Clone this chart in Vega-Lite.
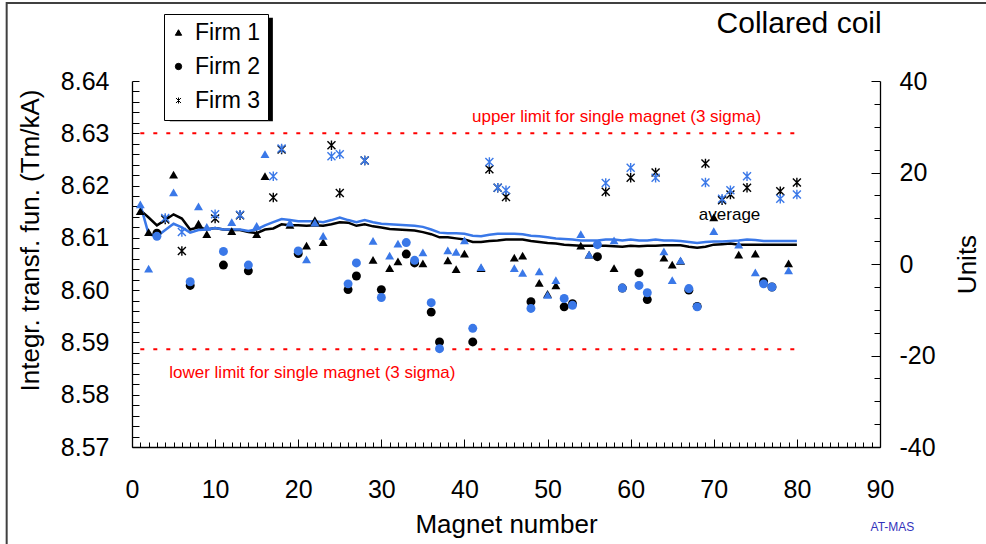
{
 "$schema": "https://vega.github.io/schema/vega-lite/v6.json",
 "width": 748, "height": 366,
 "autosize": "none",
 "padding": {"left": 132, "top": 81, "right": 106, "bottom": 97},
 "background": "white",
 "config": {
  "font": "Liberation Sans",
  "view": {"stroke": null},
  "axis": {"grid": false, "labelOverlap": false, "labelFlush": false, "domainColor": "black", "domainWidth": 1.3, "tickColor": "black", "tickWidth": 1, "labelColor": "black", "titleColor": "black", "labelFont": "Liberation Sans", "titleFont": "Liberation Sans", "titleFontWeight": "normal", "labelFontSize": 25, "titleFontSize": 26}
 },
 "datasets": {
  "mag": [
   {"n":1,"firm":"Firm 1","a":8.6151,"b":8.6164,"ma":8.6153,"mb":8.6164},
   {"n":2,"firm":"Firm 1","a":8.6111,"b":8.6041,"ma":8.6139,"mb":8.6107},
   {"n":3,"firm":"Firm 2","a":8.6109,"b":8.6103,"ma":8.6124,"mb":8.6103},
   {"n":4,"firm":"Firm 3","a":8.6135,"b":8.6138,"ma":8.6134,"mb":8.6115},
   {"n":5,"firm":"Firm 1","a":8.6221,"b":8.6187,"ma":8.6145,"mb":8.6127},
   {"n":6,"firm":"Firm 3","a":8.6075,"b":8.6111,"ma":8.6137,"mb":8.6120},
   {"n":7,"firm":"Firm 2","a":8.6009,"b":8.6016,"ma":8.6116,"mb":8.6110},
   {"n":8,"firm":"Firm 1","a":8.6127,"b":8.6160,"ma":8.6120,"mb":8.6115},
   {"n":9,"firm":"Firm 1","a":8.6107,"b":8.6121,"ma":8.6116,"mb":8.6116},
   {"n":10,"firm":"Firm 3","a":8.6137,"b":8.6145,"ma":8.6119,"mb":8.6119},
   {"n":11,"firm":"Firm 2","a":8.6048,"b":8.6074,"ma":8.6116,"mb":8.6116},
   {"n":12,"firm":"Firm 1","a":8.6113,"b":8.6130,"ma":8.6115,"mb":8.6116},
   {"n":13,"firm":"Firm 3","a":8.6143,"b":8.6144,"ma":8.6115,"mb":8.6116},
   {"n":14,"firm":"Firm 2","a":8.6037,"b":8.6048,"ma":8.6111,"mb":8.6113},
   {"n":15,"firm":"Firm 1","a":8.6107,"b":8.6123,"ma":8.6109,"mb":8.6116},
   {"n":16,"firm":"Firm 1","a":8.6218,"b":8.6260,"ma":8.6116,"mb":8.6124},
   {"n":17,"firm":"Firm 3","a":8.6177,"b":8.6218,"ma":8.6118,"mb":8.6130},
   {"n":18,"firm":"Firm 3","a":8.6269,"b":8.6271,"ma":8.6126,"mb":8.6136},
   {"n":19,"firm":"Firm 1","a":8.6125,"b":8.6129,"ma":8.6124,"mb":8.6134},
   {"n":20,"firm":"Firm 2","a":8.6070,"b":8.6075,"ma":8.6124,"mb":8.6132},
   {"n":21,"firm":"Firm 1","a":8.6085,"b":8.6059,"ma":8.6123,"mb":8.6132},
   {"n":22,"firm":"Firm 1","a":8.6134,"b":8.6129,"ma":8.6124,"mb":8.6132},
   {"n":23,"firm":"Firm 1","a":8.6092,"b":8.6104,"ma":8.6123,"mb":8.6130},
   {"n":24,"firm":"Firm 3","a":8.6277,"b":8.6256,"ma":8.6126,"mb":8.6134},
   {"n":25,"firm":"Firm 3","a":8.6186,"b":8.6260,"ma":8.6130,"mb":8.6139},
   {"n":26,"firm":"Firm 2","a":8.6001,"b":8.6012,"ma":8.6129,"mb":8.6134},
   {"n":27,"firm":"Firm 2","a":8.6027,"b":8.6052,"ma":8.6123,"mb":8.6130},
   {"n":28,"firm":"Firm 3","a":8.6248,"b":8.6248,"ma":8.6126,"mb":8.6134},
   {"n":29,"firm":"Firm 1","a":8.6058,"b":8.6094,"ma":8.6122,"mb":8.6130},
   {"n":30,"firm":"Firm 2","a":8.6001,"b":8.5986,"ma":8.6120,"mb":8.6127},
   {"n":31,"firm":"Firm 1","a":8.6042,"b":8.6066,"ma":8.6117,"mb":8.6126},
   {"n":32,"firm":"Firm 1","a":8.6055,"b":8.6089,"ma":8.6116,"mb":8.6125},
   {"n":33,"firm":"Firm 2","a":8.6069,"b":8.6091,"ma":8.6115,"mb":8.6124},
   {"n":34,"firm":"Firm 2","a":8.6052,"b":8.6057,"ma":8.6114,"mb":8.6123},
   {"n":35,"firm":"Firm 1","a":8.6051,"b":8.6072,"ma":8.6111,"mb":8.6121},
   {"n":36,"firm":"Firm 2","a":8.5958,"b":8.5976,"ma":8.6107,"mb":8.6116},
   {"n":37,"firm":"Firm 2","a":8.5901,"b":8.5888,"ma":8.6101,"mb":8.6110},
   {"n":38,"firm":"Firm 1","a":8.6057,"b":8.6076,"ma":8.6101,"mb":8.6109},
   {"n":39,"firm":"Firm 1","a":8.6040,"b":8.6073,"ma":8.6099,"mb":8.6109},
   {"n":40,"firm":"Firm 1","a":8.6070,"b":8.6095,"ma":8.6097,"mb":8.6108},
   {"n":41,"firm":"Firm 2","a":8.5901,"b":8.5927,"ma":8.6092,"mb":8.6104},
   {"n":42,"firm":"Firm 1","a":8.6042,"b":8.6044,"ma":8.6092,"mb":8.6103},
   {"n":43,"firm":"Firm 3","a":8.6231,"b":8.6245,"ma":8.6094,"mb":8.6106},
   {"n":44,"firm":"Firm 3","a":8.6196,"b":8.6196,"ma":8.6095,"mb":8.6108},
   {"n":45,"firm":"Firm 3","a":8.6178,"b":8.6191,"ma":8.6097,"mb":8.6108},
   {"n":46,"firm":"Firm 1","a":8.6062,"b":8.6042,"ma":8.6097,"mb":8.6108},
   {"n":47,"firm":"Firm 1","a":8.6066,"b":8.6033,"ma":8.6097,"mb":8.6107},
   {"n":48,"firm":"Firm 2","a":8.5978,"b":8.5965,"ma":8.6094,"mb":8.6104},
   {"n":49,"firm":"Firm 1","a":8.6014,"b":8.6036,"ma":8.6092,"mb":8.6103},
   {"n":50,"firm":"Firm 1","a":8.5993,"b":8.5991,"ma":8.6090,"mb":8.6101},
   {"n":51,"firm":"Firm 1","a":8.6009,"b":8.6019,"ma":8.6089,"mb":8.6099},
   {"n":52,"firm":"Firm 2","a":8.5968,"b":8.5984,"ma":8.6087,"mb":8.6098},
   {"n":53,"firm":"Firm 2","a":8.5974,"b":8.5971,"ma":8.6086,"mb":8.6097},
   {"n":54,"firm":"Firm 1","a":8.6085,"b":8.6107,"ma":8.6085,"mb":8.6095},
   {"n":55,"firm":"Firm 1","a":8.6068,"b":8.6068,"ma":8.6085,"mb":8.6095},
   {"n":56,"firm":"Firm 2","a":8.6064,"b":8.6087,"ma":8.6085,"mb":8.6095},
   {"n":57,"firm":"Firm 3","a":8.6188,"b":8.6205,"ma":8.6085,"mb":8.6097},
   {"n":58,"firm":"Firm 1","a":8.6042,"b":8.6095,"ma":8.6084,"mb":8.6097},
   {"n":59,"firm":"Firm 2","a":8.6004,"b":8.6004,"ma":8.6083,"mb":8.6095},
   {"n":60,"firm":"Firm 3","a":8.6215,"b":8.6234,"ma":8.6085,"mb":8.6097},
   {"n":61,"firm":"Firm 2","a":8.6033,"b":8.6009,"ma":8.6084,"mb":8.6095},
   {"n":62,"firm":"Firm 2","a":8.5982,"b":8.5995,"ma":8.6085,"mb":8.6095},
   {"n":63,"firm":"Firm 3","a":8.6225,"b":8.6215,"ma":8.6085,"mb":8.6097},
   {"n":64,"firm":"Firm 1","a":8.6062,"b":8.6074,"ma":8.6086,"mb":8.6095},
   {"n":65,"firm":"Firm 1","a":8.6049,"b":8.6019,"ma":8.6086,"mb":8.6095},
   {"n":66,"firm":"Firm 1","a":8.6056,"b":8.6057,"ma":8.6086,"mb":8.6094},
   {"n":67,"firm":"Firm 2","a":8.6000,"b":8.6003,"ma":8.6083,"mb":8.6092},
   {"n":68,"firm":"Firm 2","a":8.5969,"b":8.5968,"ma":8.6081,"mb":8.6090},
   {"n":69,"firm":"Firm 3","a":8.6242,"b":8.6206,"ma":8.6083,"mb":8.6092},
   {"n":70,"firm":"Firm 1","a":8.6139,"b":8.6113,"ma":8.6087,"mb":8.6093},
   {"n":71,"firm":"Firm 3","a":8.6172,"b":8.6175,"ma":8.6088,"mb":8.6093},
   {"n":72,"firm":"Firm 3","a":8.6183,"b":8.6191,"ma":8.6089,"mb":8.6094},
   {"n":73,"firm":"Firm 1","a":8.6068,"b":8.6087,"ma":8.6087,"mb":8.6095},
   {"n":74,"firm":"Firm 3","a":8.6196,"b":8.6218,"ma":8.6087,"mb":8.6097},
   {"n":75,"firm":"Firm 1","a":8.6070,"b":8.6034,"ma":8.6087,"mb":8.6096},
   {"n":76,"firm":"Firm 2","a":8.6016,"b":8.6012,"ma":8.6087,"mb":8.6094},
   {"n":77,"firm":"Firm 2","a":8.6006,"b":8.6006,"ma":8.6087,"mb":8.6094},
   {"n":78,"firm":"Firm 3","a":8.6189,"b":8.6175,"ma":8.6087,"mb":8.6094},
   {"n":79,"firm":"Firm 1","a":8.6051,"b":8.6038,"ma":8.6087,"mb":8.6094},
   {"n":80,"firm":"Firm 3","a":8.6206,"b":8.6183,"ma":8.6087,"mb":8.6094}
  ],
  "lim": [
   {"n":1,"v":8.63,"which":"upper"},{"n":80,"v":8.63,"which":"upper"},
   {"n":1,"v":8.5887,"which":"lower"},{"n":80,"v":8.5887,"which":"lower"}
  ],
  "notes": [
   {"n":58.3,"v":8.6331,"text":"upper limit for single magnet (3 sigma)","role":"limit"},
   {"n":21.7,"v":8.5842,"text":"lower limit for single magnet (3 sigma)","role":"limit"},
   {"n":71.9,"v":8.6143,"text":"average","role":"avg"},
   {"n":90.2,"v":8.6491,"text":"Collared coil","role":"title"},
   {"n":91.5,"v":8.5547,"text":"AT-MAS","role":"tag"}
  ],
  "boxes": [
   {"n":4.55,"n2":16.95,"v":8.6521,"v2":8.6323,"kind":"shadow"},
   {"n":-15.08,"n2":120,"v":8.6549,"v2":8.5,"kind":"frame"}
  ],
  "units": [{"u":-40},{"u":40}]
 },
 "layer": [
  {
   "encoding": {
    "x": {"field": "n", "type": "quantitative", "scale": {"domain": [0, 90], "nice": false, "zero": false},
     "axis": {"title": "Magnet number", "values": [0,1,2,3,4,5,6,7,8,9,10,11,12,13,14,15,16,17,18,19,20,21,22,23,24,25,26,27,28,29,30,31,32,33,34,35,36,37,38,39,40,41,42,43,44,45,46,47,48,49,50,51,52,53,54,55,56,57,58,59,60,61,62,63,64,65,66,67,68,69,70,71,72,73,74,75,76,77,78,79,80,81,82,83,84,85,86,87,88,89,90],
      "labelExpr": "datum.value % 10 === 0 ? datum.label : ''", "labelOverlap": false,
      "tickSize": {"condition": {"test": "datum.value % 10 === 0", "value": -8}, "value": -5},
      "labelPadding": 38, "titleY": 85, "titleBaseline": "alphabetic"}},
    "y": {"field": "v", "type": "quantitative", "scale": {"domain": [8.57, 8.64], "nice": false, "zero": false},
     "axis": {"title": "Integr. transf. fun. (Tm/kA)", "values": [8.57,8.572,8.574,8.576,8.578,8.58,8.582,8.584,8.586,8.588,8.59,8.592,8.594,8.596,8.598,8.6,8.602,8.604,8.606,8.608,8.61,8.612,8.614,8.616,8.618,8.62,8.622,8.624,8.626,8.628,8.63,8.632,8.634,8.636,8.638,8.64],
      "labelExpr": "abs(datum.value*100 - round(datum.value*100)) < 0.001 ? format(datum.value, '.2f') : ''", "labelOverlap": false,
      "tickSize": -7, "labelPadding": 30, "titleX": -102, "titleY": 159, "titleBaseline": "middle", "titleAnchor": "middle"}}
   },
   "layer": [
    {
     "data": {"name": "boxes"},
     "transform": [{"filter": "datum.kind === 'frame'"}],
     "mark": {"type": "rect", "fill": null, "fillOpacity": 0, "stroke": "#404040", "strokeWidth": 2, "clip": false},
     "encoding": {"x2": {"field": "n2"}, "y2": {"field": "v2"}}
    },
    {
     "data": {"name": "boxes"},
     "transform": [{"filter": "datum.kind === 'shadow'"}],
     "mark": {"type": "rect", "fill": "black", "clip": false},
     "encoding": {"x2": {"field": "n2"}, "y2": {"field": "v2"}}
    },
    {
     "data": {"name": "lim"},
     "mark": {"type": "line", "color": "#ff0000", "strokeWidth": 2, "strokeDash": [4, 9]},
     "encoding": {"detail": {"field": "which"}}
    },
    {
     "data": {"name": "mag"},
     "transform": [{"fold": ["ma", "mb"], "as": ["run", "v"]}],
     "mark": {"type": "line", "strokeWidth": 2.5},
     "encoding": {
      "color": {"field": "run", "type": "nominal", "scale": {"domain": ["a", "b", "ma", "mb"], "range": ["#000000", "#3a78e8", "#000000", "#3a78e8"]}, "legend": null}
     }
    },
    {
     "data": {"name": "mag"},
     "transform": [{"filter": "datum.firm !== 'Firm 3'"}, {"fold": ["a", "b"], "as": ["run", "v"]}],
     "mark": {"type": "point", "filled": true, "size": 80, "opacity": 1},
     "encoding": {
      "color": {"field": "run", "type": "nominal", "legend": null},
      "shape": {"field": "firm", "type": "nominal",
       "scale": {"domain": ["Firm 1", "Firm 2", "Firm 3"], "range": ["triangle-up", "circle", "M-0.8,-0.8L0.8,0.8M0.8,-0.8L-0.8,0.8M0,-0.95L0,0.95"]},
       "legend": {"orient": "none", "legendX": 32, "legendY": -67, "title": null, "strokeColor": "black", "fillColor": "white", "padding": 7, "labelFontSize": 23, "labelFont": "Liberation Sans", "labelColor": "black", "symbolSize": 40, "symbolFillColor": "black", "symbolStrokeColor": "black", "symbolStrokeWidth": 1, "rowPadding": 10, "labelOffset": 5, "symbolOffset": -4}}
     }
    },
    {
     "data": {"name": "mag"},
     "transform": [{"filter": "datum.firm === 'Firm 3'"}, {"fold": ["a", "b"], "as": ["run", "v"]}],
     "mark": {"type": "point", "filled": false, "size": 100, "strokeWidth": 1.4, "opacity": 1},
     "encoding": {
      "color": {"field": "run", "type": "nominal", "legend": null},
      "shape": {"field": "firm", "type": "nominal",
       "legend": {"orient": "none", "legendX": 32, "legendY": -67, "title": null, "strokeColor": "black", "fillColor": "white", "padding": 7, "labelFontSize": 23, "labelFont": "Liberation Sans", "labelColor": "black", "symbolSize": 40, "symbolFillColor": "black", "symbolStrokeColor": "black", "symbolStrokeWidth": 1, "rowPadding": 10, "labelOffset": 5, "symbolOffset": -4}}
     }
    },
    {
     "data": {"name": "notes"},
     "transform": [{"filter": "datum.role === 'limit'"}],
     "mark": {"type": "text", "color": "#ff0000", "fontSize": 17, "font": "Liberation Sans", "baseline": "middle", "align": "center"},
     "encoding": {"text": {"field": "text"}}
    },
    {
     "data": {"name": "notes"},
     "transform": [{"filter": "datum.role === 'avg'"}],
     "mark": {"type": "text", "color": "black", "fontSize": 17, "font": "Liberation Sans", "baseline": "middle", "align": "center"},
     "encoding": {"text": {"field": "text"}}
    },
    {
     "data": {"name": "notes"},
     "transform": [{"filter": "datum.role === 'title'"}],
     "mark": {"type": "text", "color": "black", "fontSize": 30, "font": "Liberation Sans", "baseline": "alphabetic", "align": "right"},
     "encoding": {"text": {"field": "text"}}
    },
    {
     "data": {"name": "notes"},
     "transform": [{"filter": "datum.role === 'tag'"}],
     "mark": {"type": "text", "color": "#3333bb", "fontSize": 12, "font": "Liberation Sans", "baseline": "middle", "align": "center"},
     "encoding": {"text": {"field": "text"}}
    }
   ]
  },
  {
   "data": {"name": "units"},
   "mark": {"type": "point", "opacity": 0},
   "encoding": {
    "y": {"field": "u", "type": "quantitative", "scale": {"domain": [-40, 40], "nice": false, "zero": false},
     "axis": {"orient": "right", "title": "Units", "values": [-40,-35,-30,-25,-20,-15,-10,-5,0,5,10,15,20,25,30,35,40],
      "labelExpr": "datum.value % 20 === 0 ? (datum.value < 0 ? '-' : '') + abs(datum.value) : ''", "labelOverlap": false,
      "tickSize": {"condition": {"test": "datum.value % 20 === 0", "value": -9}, "value": -6},
      "labelPadding": 28, "titleAngle": 270, "titleX": 87, "titleY": 183, "titleBaseline": "middle", "titleAnchor": "middle"}}
   }
  }
 ],
 "resolve": {"scale": {"y": "independent"}}
}
